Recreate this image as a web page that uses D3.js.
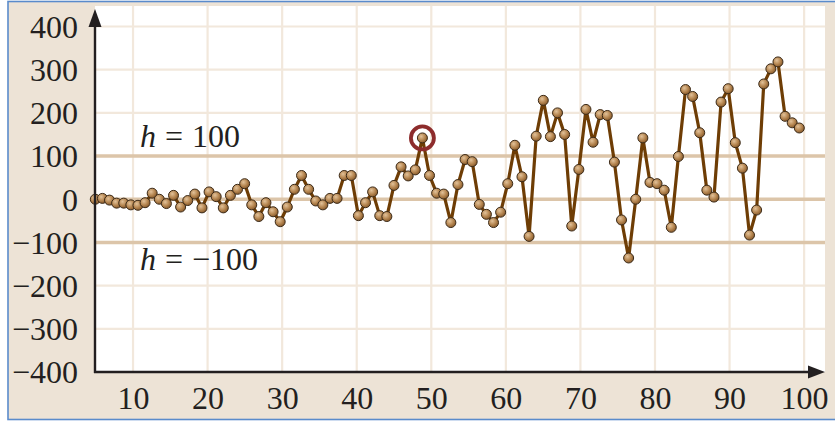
<!DOCTYPE html>
<html>
<head>
<meta charset="utf-8">
<script src="https://cdn.jsdelivr.net/npm/d3@7"></script>
<style>
  html, body { margin: 0; padding: 0; background: #ffffff; }
  svg { display: block; }
</style>
</head>
<body>
<svg id="chart" width="835" height="421"></svg>
<script>
// ---- data ----
const xTickValues = [10, 20, 30, 40, 50, 60, 70, 80, 90, 100];
const yTickValues = [-400, -300, -200, -100, 0, 100, 200, 300, 400];
const heavyLevels = [100, 0, -100];
const refLabels = [{ level: 100, text: "100" }, { level: -100, text: "\u2212100" }];
const values = [
  0, 2, -2, -9, -9, -13, -14, -8, 14, 0,
  -10, 9, -18, -3, 12, -20, 17, 6, -20, 9,
  23, 36, -13, -40, -8, -29, -52, -18, 23, 55,
  23, -4, -13, 2, 2, 55, 55, -38, -8, 17,
  -38, -40, 32, 75, 54, 68, 142, 55, 14, 12,
  -54, 34, 92, 87, -12, -35, -54, -30, 36, 125,
  52, -86, 146, 229, 145, 200, 150, -62, 69, 208,
  132, 196, 194, 86, -48, -136, 0, 142, 39, 36,
  21, -65, 99, 254, 238, 154, 21, 5, 225, 256,
  131, 72, -83, -25, 267, 302, 318, 192, 177, 165
];
const highlightIndex = 46;

// ---- layout ----
const W = 835, H = 421;
const plot = { left: 95, right: 825, top: 6, bottom: 372 };

const svg = d3.select("#chart");

// scales
const xAxisScale = d3.scaleLinear().domain([4.9, 102.8]).range([plot.left, plot.right]);
const xPoint = d3.scalePoint().domain(d3.range(values.length)).range([95.3, 799.3]);
const y = d3.scaleLinear().domain([-400, 400]).range([372, 26.5]);

// defs
const defs = svg.append("defs");
const grad = defs.append("radialGradient").attr("id", "ball")
  .attr("cx", "38%").attr("cy", "35%").attr("r", "65%");
grad.append("stop").attr("offset", "0%").attr("stop-color", "#e2c29a");
grad.append("stop").attr("offset", "55%").attr("stop-color", "#b98a55");
grad.append("stop").attr("offset", "100%").attr("stop-color", "#8a5c2c");
defs.append("clipPath").attr("id", "plotclip").append("rect")
  .attr("x", plot.left).attr("y", plot.top)
  .attr("width", plot.right - plot.left).attr("height", plot.bottom - plot.top);

// background
svg.append("rect").attr("x", 0).attr("y", 0).attr("width", W).attr("height", H).attr("fill", "#ffffff");
svg.append("rect").attr("x", 8).attr("y", 1.5).attr("width", W).attr("height", 418)
  .attr("fill", "#ede3d6").attr("stroke", "#5a8bcb").attr("stroke-width", 1.6);
svg.append("rect").attr("x", plot.left).attr("y", plot.top)
  .attr("width", plot.right - plot.left).attr("height", plot.bottom - plot.top)
  .attr("fill", "#ffffff");

const grid = svg.append("g").attr("clip-path", "url(#plotclip)");
// vertical light grid
grid.selectAll("line.vg").data(xTickValues).join("line")
  .attr("class", "vg")
  .attr("x1", d => xAxisScale(d)).attr("x2", d => xAxisScale(d))
  .attr("y1", plot.top).attr("y2", plot.bottom)
  .attr("stroke", "#f2e8dc").attr("stroke-width", 2.2);
// horizontal light grid
grid.selectAll("line.hg").data(yTickValues.filter(v => !heavyLevels.includes(v) && v !== -400)).join("line")
  .attr("class", "hg")
  .attr("x1", plot.left).attr("x2", plot.right)
  .attr("y1", d => y(d)).attr("y2", d => y(d))
  .attr("stroke", "#f2e8dc").attr("stroke-width", 2.2);
// heavy reference lines
grid.selectAll("line.hv").data(heavyLevels).join("line")
  .attr("class", "hv")
  .attr("x1", plot.left).attr("x2", plot.right)
  .attr("y1", d => y(d)).attr("y2", d => y(d))
  .attr("stroke", "#dcc5a9").attr("stroke-width", 3.4);

// axes labels via d3 axes
const fontFam = "'Liberation Serif', 'DejaVu Serif', serif";
const yAxis = svg.append("g").attr("transform", `translate(${plot.left - 17},0)`)
  .call(d3.axisLeft(y).tickValues(yTickValues).tickSize(0).tickPadding(0));
yAxis.select(".domain").remove();
yAxis.selectAll("text").attr("font-family", fontFam).attr("font-size", 32)
  .attr("fill", "#231f20").attr("dy", "0.34em");

const xAxis = svg.append("g").attr("transform", `translate(0,${plot.bottom})`)
  .call(d3.axisBottom(xAxisScale).tickValues(xTickValues).tickSize(0).tickPadding(0));
xAxis.select(".domain").remove();
xAxis.selectAll("text").attr("font-family", fontFam).attr("font-size", 32)
  .attr("fill", "#231f20").attr("dy", "1.15em");

// reference labels
const refG = svg.append("g");
refLabels.forEach(r => {
  const t = refG.append("text")
    .attr("x", 140)
    .attr("y", y(r.level) + (r.level > 0 ? -9 : 28))
    .attr("font-family", fontFam).attr("font-size", 32).attr("fill", "#231f20");
  t.append("tspan").attr("font-style", "italic").text("h");
  t.append("tspan").attr("dx", 9).text("=");
  t.append("tspan").attr("dx", 9).text(r.text);
});

// data line and points
const line = d3.line().x((d, i) => xPoint(i)).y(d => y(d));
svg.append("path").datum(values)
  .attr("d", line).attr("fill", "none")
  .attr("stroke", "#6e3d05").attr("stroke-width", 3.2).attr("stroke-linejoin", "round");
svg.append("g").selectAll("circle").data(values).join("circle")
  .attr("cx", (d, i) => xPoint(i)).attr("cy", d => y(d)).attr("r", 5)
  .attr("fill", "url(#ball)").attr("stroke", "#3b2a18").attr("stroke-width", 1);

// highlight ring
svg.append("circle")
  .attr("cx", xPoint(highlightIndex)).attr("cy", y(values[highlightIndex]))
  .attr("r", 11.5).attr("fill", "none").attr("stroke", "#8d2c2c").attr("stroke-width", 3.8);

// axis lines with arrows
const axisColor = "#231f20";
svg.append("line").attr("x1", plot.left).attr("x2", plot.left)
  .attr("y1", plot.bottom + 1).attr("y2", 24)
  .attr("stroke", axisColor).attr("stroke-width", 2.4);
svg.append("path")
  .attr("d", `M${plot.left - 6.5},27 L${plot.left},9 L${plot.left + 6.5},27 Z`)
  .attr("fill", axisColor);
svg.append("line").attr("x1", plot.left - 1).attr("x2", 810)
  .attr("y1", plot.bottom).attr("y2", plot.bottom)
  .attr("stroke", axisColor).attr("stroke-width", 2.4);
svg.append("path")
  .attr("d", `M808,${plot.bottom - 6.5} L825,${plot.bottom} L808,${plot.bottom + 6.5} Z`)
  .attr("fill", axisColor);
</script>
</body>
</html>
